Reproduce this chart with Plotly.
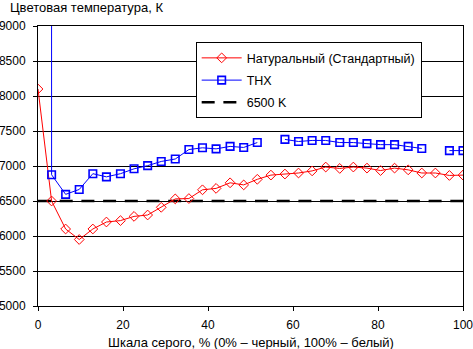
import plotly.graph_objects as go

gray_pct = [0, 3.2, 6.5, 9.7, 12.9, 16.1, 19.4, 22.6, 25.8, 29.0, 32.3, 35.5,
            38.7, 41.9, 45.2, 48.4, 51.6, 54.8, 58.1, 61.3, 64.5, 67.7, 71.0,
            74.2, 77.4, 80.6, 83.9, 87.1, 90.3, 93.5, 96.8, 100]

natural = [8100, 6500, 6100, 5950, 6100, 6200, 6220, 6280, 6300, 6410, 6530, 6535,
           6660, 6680, 6760, 6730, 6810, 6870, 6885, 6900, 6930, 6985, 6965,
           6985, 6970, 6935, 6970, 6945, 6900, 6900, 6865, 6870]

thx = [1000000, 6875, 6595, 6665, 6890, 6845, 6890, 6960, 7005, 7065, 7100, 7235,
       7260, 7245, 7280, 7265, 7335, None, 7380, 7350, 7365, 7365, 7335,
       7335, 7320, 7305, 7305, 7280, 7250, None, 7220, 7220]

ref_x = [0, 100]
ref_y = [6500, 6500]

names = ["Натуральный (Стандартный)", "THX", "6500 K"]
y_ticks = [5000, 5500, 6000, 6500, 7000, 7500, 8000, 8500, 9000]
x_ticks = [0, 20, 40, 60, 80, 100]

FONT = "Liberation Sans, Arial, sans-serif"

fig = go.Figure()
fig.add_trace(go.Scatter(
    x=ref_x, y=ref_y, mode="lines", name=names[2], legendrank=3, legendgroup="c",
    line=dict(color="black", width=2.5, dash="13px,8.7px"),
))
fig.add_trace(go.Scatter(
    x=gray_pct, y=natural, mode="lines+markers", name=names[0], legendrank=1, legendgroup="a",
    line=dict(color="#ff0000", width=1),
    marker=dict(symbol="diamond-open", size=7.5, color="#ff0000", line=dict(width=1)),
))
fig.add_trace(go.Scatter(
    x=gray_pct, y=thx, mode="lines+markers", name=names[1], legendrank=2, legendgroup="b",
    connectgaps=False,
    line=dict(color="#0000ff", width=1),
    marker=dict(symbol="square-open", size=7.5, color="#0000ff", line=dict(width=1.6)),
))

fig.update_layout(
    width=473, height=349,
    margin=dict(l=38, r=10, t=26, b=43, autoexpand=False),
    paper_bgcolor="white", plot_bgcolor="white",
    font=dict(family=FONT, size=12, color="black"),
    showlegend=True,
    legend=dict(
        x=0.371, y=0.942, xanchor="left", yanchor="top",
        bgcolor="white", bordercolor="black", borderwidth=1,
        font=dict(family=FONT, size=12.5, color="black"),
        traceorder="grouped", tracegroupgap=3, itemwidth=40,
    ),
    xaxis=dict(
        range=[0, 100], tickvals=x_ticks, showgrid=False, zeroline=False,
        showline=True, linecolor="black", linewidth=1, mirror=True,
        ticks="outside", ticklen=4, tickcolor="black", automargin=False,
        ticklabeloverflow="allow",
        tickfont=dict(family=FONT, size=12), ticklabelstandoff=4,
    ),
    yaxis=dict(
        range=[5000, 9000], tickvals=y_ticks, showgrid=True, gridcolor="black", gridwidth=1,
        zeroline=False, showline=True, linecolor="black", linewidth=1, mirror=True,
        ticks="outside", ticklen=4, tickcolor="black", automargin=False,
        ticklabeloverflow="allow",
        tickfont=dict(family=FONT, size=12), ticklabelstandoff=5,
    ),
    annotations=[
        dict(text="Цветовая температура, К", xref="paper", yref="paper",
             x=(8 - 38) / 425, y=1 + 19 / 280, xanchor="left", yanchor="middle",
             showarrow=False, font=dict(family=FONT, size=13)),
        dict(text="Шкала серого, % (0% – черный, 100% – белый)", xref="paper", yref="paper",
             x=0.5, y=-(342 - 306) / 280, xanchor="center", yanchor="middle",
             showarrow=False, font=dict(family=FONT, size=13)),
    ],
)

fig.write_html("out.html")
